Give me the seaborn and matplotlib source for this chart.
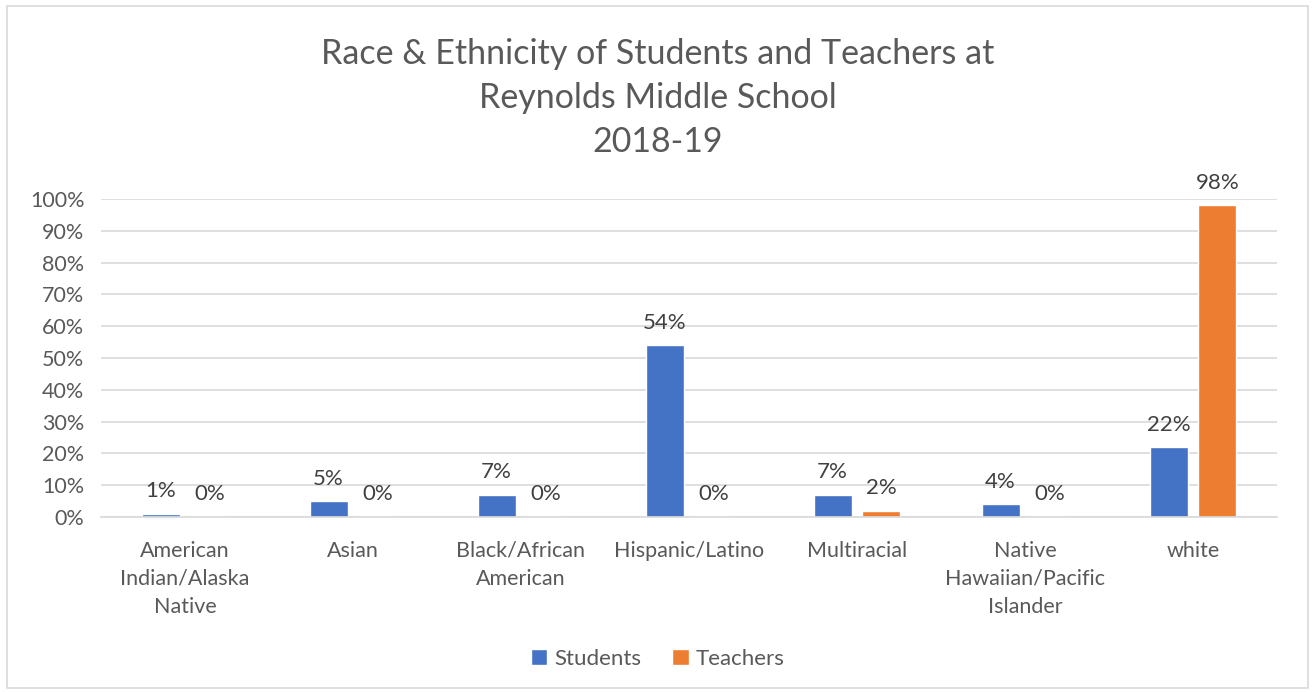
import matplotlib
matplotlib.use("Agg")
import matplotlib.pyplot as plt
import seaborn as sns
import pandas as pd
from matplotlib.patches import Rectangle, Patch
from matplotlib.ticker import PercentFormatter

categories = ["American\nIndian/Alaska\nNative", "Asian", "Black/African\nAmerican",
              "Hispanic/Latino", "Multiracial", "Native\nHawaiian/Pacific\nIslander", "white"]
students = [1, 5, 7, 54, 7, 4, 22]
teachers = [0, 0, 0, 0, 2, 0, 98]
series = ["Students", "Teachers"]
colors = ["#4472C4", "#ED7D31"]
title = "Race & Ethnicity of Students and Teachers at\nReynolds Middle School\n2018-19"

sns.set_theme(style="white")
plt.rcParams["font.family"] = ["Lato", "DejaVu Sans"]
text_color = "#595959"

df = pd.DataFrame({
    "category": categories * 2,
    "series": [series[0]] * len(categories) + [series[1]] * len(categories),
    "value": [v / 100 for v in students] + [v / 100 for v in teachers],
})

fig = plt.figure(figsize=(13.15, 6.92), dpi=100)
ax = fig.add_axes([101 / 1315, 1 - 517 / 692, 1176 / 1315, 318 / 692])

sns.barplot(data=df, x="category", y="value", hue="series", palette=colors,
            width=0.583, gap=0.224, saturation=1, ax=ax, legend=False)

ax.set_ylim(0, 1)
ax.set_xlim(-0.5, len(categories) - 0.5)
ax.set_yticks([i / 10 for i in range(11)])
ax.yaxis.set_major_formatter(PercentFormatter(1.0, decimals=0))
ax.grid(axis="y", color="#D9D9D9", linewidth=1.2)
ax.set_axisbelow(True)
for s in ["top", "right", "left"]:
    ax.spines[s].set_visible(False)
ax.spines["bottom"].set_color("#D9D9D9")
ax.spines["bottom"].set_linewidth(1.2)
ax.tick_params(axis="both", length=0, labelsize=15.5, colors=text_color, pad=12)
ax.tick_params(axis="x", pad=17)
for lab in ax.get_xticklabels():
    lab.set_linespacing(1.5)
ax.set_xlabel("")
ax.set_ylabel("")

for container in ax.containers:
    ax.bar_label(container, labels=[f"{round(b.get_height()*100)}%" for b in container],
                 padding=9, fontsize=16, color="#404040")

fig.text(0.5, 1 - 98 / 692, title, ha="center", va="center", fontsize=24.5,
         color=text_color, linespacing=1.45)

handles = [Patch(facecolor=c, label=s) for c, s in zip(colors, series)]
fig.legend(handles=handles, loc="center", bbox_to_anchor=(0.5, 1 - 659 / 692), ncol=2,
           frameon=False, fontsize=16, labelcolor=text_color, handlelength=0.75,
           handleheight=0.75, handletextpad=0.3, columnspacing=1.4)

fig.patches.append(Rectangle((7 / 1315, 4 / 692), 1301 / 1315, 682 / 692,
                             transform=fig.transFigure, fill=False,
                             edgecolor="#D9D9D9", linewidth=1.2))

fig.savefig("out.png", dpi=100, facecolor="white")
